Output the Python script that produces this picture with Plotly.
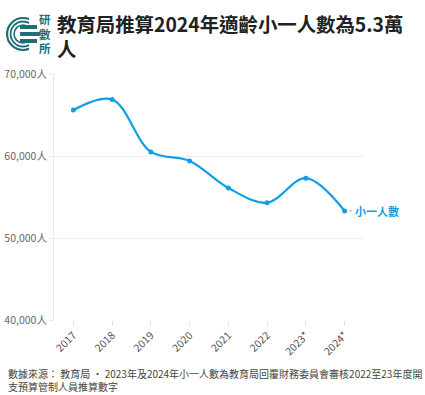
import plotly.graph_objects as go

years = ["2017", "2018", "2019", "2020", "2021", "2022", "2023*", "2024*"]
students = [65600, 66900, 60500, 59400, 56100, 54300, 57300, 53300]
y_ticks = [40000, 50000, 60000, 70000]
y_tick_labels = ["40,000人", "50,000人", "60,000人", "70,000人"]
series_name = "小一人數"
title_text = "教育局推算2024年適齡小一人數為5.3萬<br>人"
source_text = ("數據來源： 教育局 • 2023年及2024年小一人數為教育局回覆財務委員會審核2022至23年度開"
               "<br>支預算管制人員推算數字")

W, H = 425, 395
L, R, T, B = 54, 60.5, 74, 75
PW, PH = W - L - R, H - T - B
BLUE = "#0F9FE5"
TEAL = "#1E6E77"
FONT = "Noto Sans CJK TC"


def px(x):
    return (x - L) / PW


def py(y):
    return (H - B - y) / PH


fig = go.Figure()
fig.add_trace(go.Scatter(
    x=years, y=students, mode="lines+markers",
    line=dict(color=BLUE, width=2.2, shape="spline", smoothing=1.0),
    marker=dict(color=BLUE, size=5),
    name=series_name, hoverinfo="x+y", cliponaxis=False,
))

shapes = []
# logo: concentric arcs (circles partially covered) and bars
cx, cy = 23, 34
for r, w in [(16, 2.2), (12.5, 1.8), (9, 1.6)]:
    shapes.append(dict(type="circle", xref="paper", yref="paper",
                       x0=px(cx - r), x1=px(cx + r), y0=py(cy + r), y1=py(cy - r),
                       line=dict(color=TEAL, width=w), layer="above"))
shapes.append(dict(type="rect", xref="paper", yref="paper",
                   x0=px(29), x1=px(42), y0=py(52), y1=py(15),
                   fillcolor="white", line=dict(width=0), layer="above"))
for y0, y1, x1 in [(25, 29, 37), (32, 36, 40), (39, 43, 37)]:
    shapes.append(dict(type="rect", xref="paper", yref="paper",
                       x0=px(20), x1=px(x1), y0=py(y1), y1=py(y0),
                       fillcolor=TEAL, line=dict(width=0), layer="above"))
# dotted connector for end label
shapes.append(dict(type="line", xref="x", yref="y",
                   x0=7.12, x1=7.28, y0=students[-1], y1=students[-1],
                   line=dict(color="#bbbbbb", width=1.2, dash="dot")))

annotations = []
for i, ch in enumerate("研數所"):
    annotations.append(dict(text="<b>%s</b>" % ch, xref="paper", yref="paper",
                            x=px(44.5), y=py(19 + i * 14.5), xanchor="center", yanchor="middle",
                            showarrow=False, font=dict(family=FONT, size=11.5, color=TEAL)))

annotations.append(dict(text="<b>%s</b>" % title_text, xref="paper", yref="paper",
                        x=px(55), y=py(7), xanchor="left", yanchor="top", align="left",
                        showarrow=False, font=dict(family=FONT, size=19.4, color="#222222")))

annotations.append(dict(text=source_text, xref="paper", yref="paper",
                        x=px(6), y=py(364), xanchor="left", yanchor="top", align="left",
                        showarrow=False, font=dict(family=FONT, size=10, color="#444444")))

annotations.append(dict(text="<b>%s</b>" % series_name,
                        x=years[-1], y=students[-1], xref="x", yref="y",
                        xanchor="left", yanchor="middle", xshift=8, showarrow=False,
                        font=dict(family=FONT, size=11, color=BLUE)))

fig.update_layout(
    width=W, height=H, margin=dict(l=L, r=R, t=T, b=B, pad=0, autoexpand=False),
    paper_bgcolor="white", plot_bgcolor="white", showlegend=False,
    font=dict(family=FONT, color="#555555"),
    shapes=shapes, annotations=annotations,
)
fig.update_xaxes(type="category", range=[-0.5, 7.5], showgrid=False, automargin=False,
                 ticks="outside", ticklen=4, tickcolor="#dddddd",
                 tickangle=-45, tickfont=dict(family=FONT, size=10.5, color="#555555"),
                 showline=False, zeroline=False)
fig.update_yaxes(range=[40000, 70000], tickvals=y_ticks, ticktext=y_tick_labels, automargin=False,
                 showgrid=True, gridcolor="#eeeeee", gridwidth=1,
                 showline=True, linecolor="#e8e8e8", linewidth=1,
                 ticks="outside", ticklen=4, tickcolor="#e8e8e8",
                 tickfont=dict(family=FONT, size=10.5, color="#666666"), zeroline=False)

fig.write_html("out.html", config={"displayModeBar": False},
               post_script="document.body.style.margin='0';document.body.style.overflow='hidden';")
